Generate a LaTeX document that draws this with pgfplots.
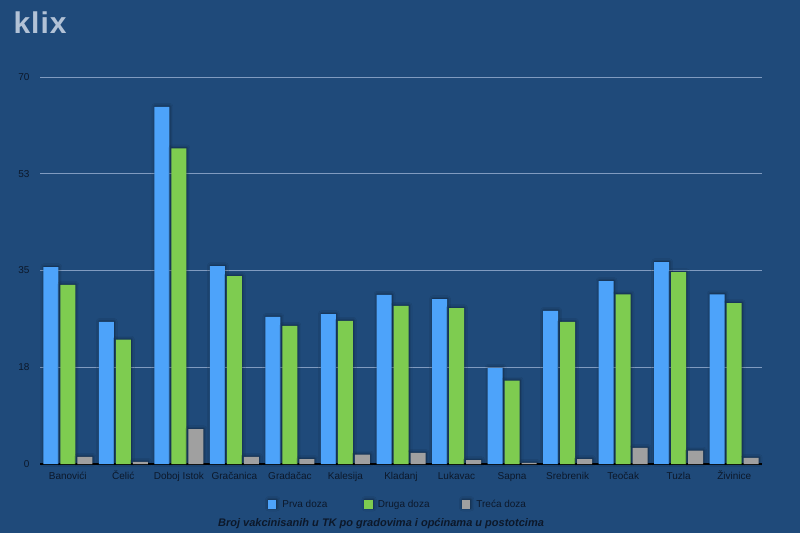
\documentclass[border=0pt]{standalone}
\usepackage{fontspec}
\setmainfont{Liberation Sans}
\usepackage{pgfplots}
\usepackage{pgfplotstable}
\pgfplotsset{compat=1.18}
\usetikzlibrary{shadows.blur}

\definecolor{bgblue}{RGB}{31,74,122}
\definecolor{gridcol}{RGB}{128,155,192}
\definecolor{prva}{RGB}{77,163,250}
\definecolor{druga}{RGB}{126,204,80}
\definecolor{treca}{RGB}{160,160,160}
\definecolor{txt}{RGB}{12,24,42}
\definecolor{logo}{RGB}{178,194,214}

\pgfplotstableread{
x prva druga treca
0 35.6 32.4 1.3
1 25.7 22.5 0.4
2 64.6 57.1 6.3
3 35.8 34.0 1.3
4 26.6 25.0 0.9
5 27.1 25.9 1.7
6 30.6 28.6 2.0
7 29.8 28.2 0.7
8 17.4 15.1 0.2
9 27.7 25.7 0.9
10 33.1 30.7 2.9
11 36.5 34.7 2.4
12 30.7 29.1 1.1
}\vaxdata

\begin{document}
\begin{tikzpicture}[x=1pt,y=1pt]
\fill[bgblue] (0,0) rectangle (800,533);
\useasboundingbox (0,0) rectangle (800,533);
\node[anchor=west, text=logo, font=\fontsize{30}{30}\selectfont\bfseries] at (10,510) {k\kern1pt l\kern1pt i\kern1pt x};

\begin{axis}[
  at={(40pt,69pt)}, anchor=south west,
  scale only axis,
  width=722pt, height=387pt,
  xmin=-0.5, xmax=12.5,
  ymin=0, ymax=70,
  ybar=2pt, bar width=15pt,
  axis x line*=bottom,
  axis y line*=left,
  x axis line style={draw=black, line width=1.5pt, -},
  y axis line style={draw=none},
  xtick=data,
  xticklabels={Banovići,Čelić,Doboj Istok,Gračanica,Gradačac,Kalesija,Kladanj,Lukavac,Sapna,Srebrenik,Teočak,Tuzla,Živinice},
  xtick style={draw=none},
  ytick={0,17.5,35,52.5,70},
  yticklabels={0,18,35,53,70},
  ytick style={draw=none},
  yticklabel style={xshift=-7pt},
  ymajorgrids,
  grid style={gridcol, line width=0.8pt},
  tick label style={font=\fontsize{10}{12}\selectfont, text=txt},
  /pgf/number format/assume math mode=true,
  xticklabel style={text height=8pt, text depth=2pt, yshift=0pt},
  clip=false,
  legend columns=3,
  legend style={at={(0.4995,-0.104)}, anchor=center, draw=none, fill=none,
    font=\fontsize{10}{12}\selectfont, text=txt,
    /tikz/every even column/.append style={column sep=0pt}},
  legend image code/.code={\fill[#1, draw=none] (0pt,-4.25pt) rectangle (8.5pt,4.25pt);},
  every axis plot/.append style={draw=none, blur shadow={shadow xshift=0.5pt, shadow yshift=0.5pt, shadow blur radius=3pt, shadow opacity=50}},
]
\addplot[fill=prva] table[x=x, y=prva] {\vaxdata};
\addlegendentry{\hspace{4pt}\makebox[80pt][l]{Prva doza}}
\addplot[fill=druga] table[x=x, y=druga] {\vaxdata};
\addlegendentry{\hspace{3pt}\makebox[82pt][l]{Druga doza}}
\addplot[fill=treca] table[x=x, y=treca] {\vaxdata};
\addlegendentry{\hspace{4pt}\makebox[55pt][l]{Treća doza}}
\end{axis}

\node[text=txt, font=\fontsize{11}{13}\selectfont\bfseries\itshape] at (381,9) {Broj vakcinisanih u TK po gradovima i općinama u postotcima};
\end{tikzpicture}
\end{document}
